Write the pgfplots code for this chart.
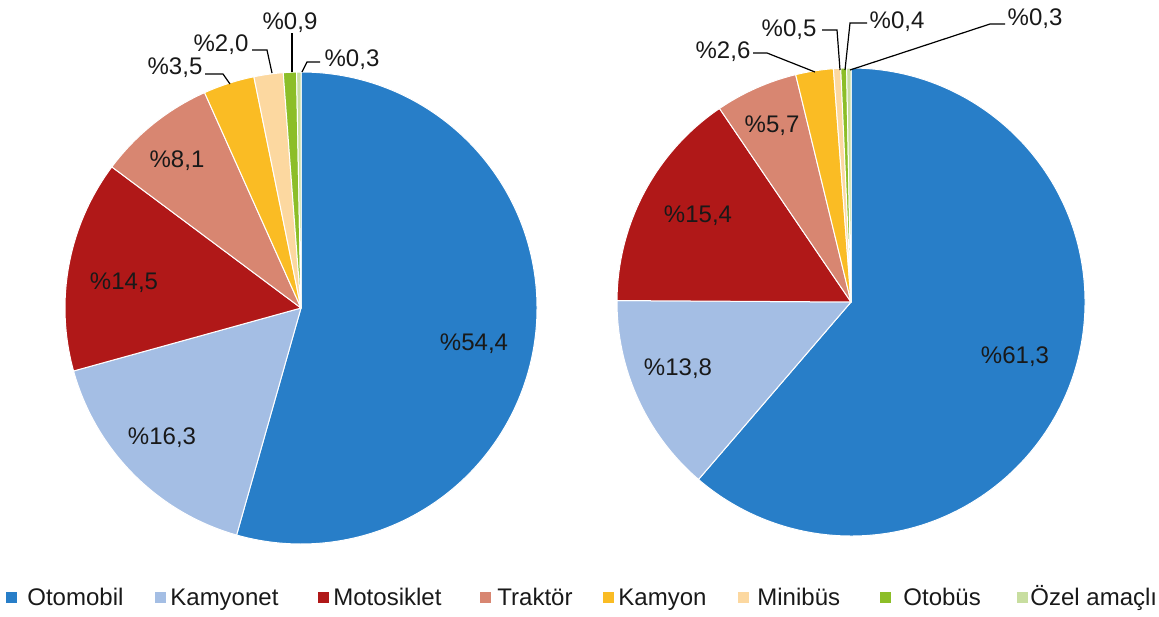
\documentclass[border=0pt]{standalone}
\usepackage{pgfplots}
\usepackage{pgfplotstable}
\pgfplotsset{compat=1.18}
\usepackage{fontspec}
\setmainfont{Liberation Sans}
\definecolor{c0}{RGB}{40,126,200}
\definecolor{c1}{RGB}{164,190,228}
\definecolor{c2}{RGB}{176,24,24}
\definecolor{c3}{RGB}{216,134,113}
\definecolor{c4}{RGB}{250,188,36}
\definecolor{c5}{RGB}{252,216,160}
\definecolor{c6}{RGB}{140,190,40}
\definecolor{c7}{RGB}{200,222,160}
\definecolor{txt}{RGB}{25,25,25}

\pgfplotstableread{
left right
54.4 61.3
16.3 13.8
14.5 15.4
8.1 5.7
3.5 2.6
2.0 0.5
0.9 0.4
0.3 0.3
}\piedata

\newcommand\drawpie[4]{%
  \def\pstart{90}%
  \pgfplotsforeachungrouped \i in {0,...,7}{%
    \pgfplotstablegetelem{\i}{#1}\of\piedata
    \pgfmathsetmacro\pstop{\pstart-3.6*\pgfplotsretval}%
    \edef\doslice{\noexpand\fill[fill=c\i, draw=white, line width=0.5pt, line join=round] (axis cs:#2,#3) -- ++(\pstart:#4) arc[start angle=\pstart, end angle=\pstop, radius=#4] -- cycle;}%
    \doslice
    \let\pstart\pstop
  }%
}

\tikzset{
  lbl/.style={font=\fontsize{12}{14}\selectfont, text=txt, inner sep=0pt, text height=8.6pt, text depth=0pt, anchor=center},
  leg/.style={font=\fontsize{12}{14}\selectfont, text=txt, inner sep=0pt, anchor=base west},
  lead/.style={draw=black, line width=0.6pt}
}

\begin{document}
\begin{tikzpicture}
\begin{axis}[scale only axis, width=579.5pt, height=308pt,
  xmin=0, xmax=1159, ymin=0, ymax=616, y dir=reverse,
  hide axis, clip=false]
\path (axis cs:0,0) rectangle (axis cs:1159,616);
\drawpie{left}{301}{308}{118pt}
\drawpie{right}{851}{302}{117pt}
% left labels
\node[lbl] at (axis cs:474,342) {\%54,4};
\node[lbl] at (axis cs:162,436) {\%16,3};
\node[lbl] at (axis cs:124,281) {\%14,5};
\node[lbl] at (axis cs:177,159) {\%8,1};
\node[lbl] at (axis cs:175,66) {\%3,5};
\node[lbl] at (axis cs:221,43) {\%2,0};
\node[lbl] at (axis cs:290,21) {\%0,9};
\node[lbl] at (axis cs:352,58) {\%0,3};
\draw[lead] (axis cs:205,74) -- (axis cs:223,74) -- (axis cs:230,84);
\draw[lead] (axis cs:252,50) -- (axis cs:267,50) -- (axis cs:272,73);
\draw[lead] (axis cs:292,33) -- (axis cs:292,72);
\draw[lead] (axis cs:320,62) -- (axis cs:307,62) -- (axis cs:302,72);
% right labels
\node[lbl] at (axis cs:1015,355) {\%61,3};
\node[lbl] at (axis cs:678,367) {\%13,8};
\node[lbl] at (axis cs:698,214) {\%15,4};
\node[lbl] at (axis cs:772,124) {\%5,7};
\node[lbl] at (axis cs:723,50) {\%2,6};
\node[lbl] at (axis cs:789,28) {\%0,5};
\node[lbl] at (axis cs:897,20) {\%0,4};
\node[lbl] at (axis cs:1035,17) {\%0,3};
\draw[lead] (axis cs:753,53) -- (axis cs:767,53) -- (axis cs:815,72);
\draw[lead] (axis cs:822,30) -- (axis cs:837,30) -- (axis cs:840,70);
\draw[lead] (axis cs:867,23) -- (axis cs:850,23) -- (axis cs:845,70);
\draw[lead] (axis cs:1005,24) -- (axis cs:990,24) -- (axis cs:850,70);
% legend
\fill[c0] (axis cs:6,591.5) rectangle (axis cs:17,602.5);
\node[leg] at (axis cs:27,605) {Otomobil};
\fill[c1] (axis cs:155,591.5) rectangle (axis cs:166,602.5);
\node[leg] at (axis cs:170,605) {Kamyonet};
\fill[c2] (axis cs:318,591.5) rectangle (axis cs:329,602.5);
\node[leg] at (axis cs:333,605) {Motosiklet};
\fill[c3] (axis cs:480,591.5) rectangle (axis cs:491,602.5);
\node[leg] at (axis cs:497,605) {Traktör};
\fill[c4] (axis cs:603,591.5) rectangle (axis cs:614,602.5);
\node[leg] at (axis cs:618,605) {Kamyon};
\fill[c5] (axis cs:738,591.5) rectangle (axis cs:749,602.5);
\node[leg] at (axis cs:757,605) {Minibüs};
\fill[c6] (axis cs:880,591.5) rectangle (axis cs:891,602.5);
\node[leg] at (axis cs:903,605) {Otobüs};
\fill[c7] (axis cs:1017,591.5) rectangle (axis cs:1028,602.5);
\node[leg] at (axis cs:1030,605) {Özel amaçlı};
\end{axis}
\end{tikzpicture}
\end{document}
